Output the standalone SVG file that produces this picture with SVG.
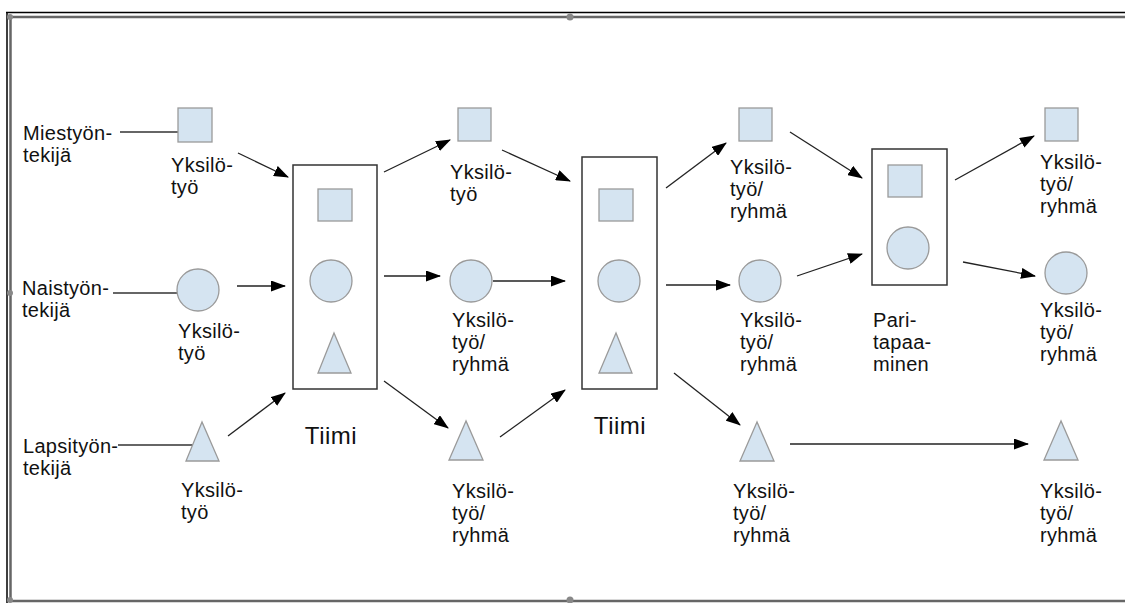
<svg xmlns="http://www.w3.org/2000/svg" width="1125" height="603" viewBox="0 0 1125 603">
<defs>
<style>
.t{font-family:"Liberation Sans",Arial,sans-serif;font-size:20px;letter-spacing:0.3px;fill:#111}
.big{font-size:24px;letter-spacing:0.5px}
.sh{fill:#d5e4f1;stroke:#9a9a9a;stroke-width:1.3}
.box{fill:none;stroke:#333;stroke-width:1.5}
.ln{stroke:#333;stroke-width:1.3;fill:none}
.ar{stroke:#222;stroke-width:1.3;fill:none;marker-end:url(#ah)}
</style>
<marker id="ah" viewBox="0 0 15 11" refX="14" refY="5.5" markerWidth="15" markerHeight="11" markerUnits="userSpaceOnUse" orient="auto">
<path d="M0,0 L15,5.5 L0,11 z" fill="#000"/>
</marker>
</defs>
<rect width="1125" height="603" fill="#fff"/>
<g id="frame">
<path d="M6,12.5 H1125 M7,12 V603" stroke="#000" stroke-width="1.5" fill="none"/>
<path d="M10,17 H1125 M10.5,17 V600 M10,601 H1125" stroke="#666" stroke-width="2.5" fill="none"/>
<circle cx="10" cy="17" r="3" fill="#888"/>
<circle cx="570" cy="17" r="3.5" fill="#888"/>
<circle cx="10" cy="293" r="3" fill="#888"/>
<circle cx="10" cy="600" r="3" fill="#888"/>
<circle cx="570" cy="600" r="3.5" fill="#888"/>
</g>
<g id="connectors">
<line class="ln" x1="120" y1="132" x2="178" y2="132"/>
<line class="ln" x1="113" y1="293" x2="177" y2="293"/>
<line class="ln" x1="118" y1="445" x2="193" y2="445"/>
<line class="ar" x1="238" y1="153" x2="288" y2="177"/>
<line class="ar" x1="237" y1="286" x2="285" y2="286"/>
<line class="ar" x1="228" y1="436" x2="285" y2="393"/>
<line class="ar" x1="384" y1="172" x2="450" y2="140"/>
<line class="ar" x1="384" y1="276" x2="440" y2="276"/>
<line class="ar" x1="384" y1="381" x2="448" y2="428"/>
<line class="ar" x1="502" y1="150" x2="570" y2="181"/>
<line class="ar" x1="493" y1="281" x2="565" y2="281"/>
<line class="ar" x1="500" y1="437" x2="565" y2="390"/>
<line class="ar" x1="666" y1="188" x2="726" y2="143"/>
<line class="ar" x1="666" y1="285" x2="730" y2="285"/>
<line class="ar" x1="674" y1="373" x2="740" y2="425"/>
<line class="ar" x1="790" y1="132" x2="862" y2="178"/>
<line class="ar" x1="797" y1="276" x2="862" y2="254"/>
<line class="ar" x1="790" y1="444" x2="1028" y2="444"/>
<line class="ar" x1="955" y1="180" x2="1034" y2="136"/>
<line class="ar" x1="963" y1="262" x2="1035" y2="276"/>
</g>
<g id="mies">
<text class="t" x="23" y="140">Miestyön-</text>
<text class="t" x="23" y="162">tekijä</text>
</g>
<g id="nais">
<text class="t" x="22" y="295">Naistyön-</text>
<text class="t" x="22" y="317">tekijä</text>
</g>
<g id="lapsi">
<text class="t" x="23" y="453">Lapsityön-</text>
<text class="t" x="23" y="475">tekijä</text>
</g>
<g id="c1-square">
<rect class="sh" x="178" y="108" width="34" height="34"/>
<text class="t" x="171" y="172">Yksilö-</text>
<text class="t" x="171" y="194">työ</text>
</g>
<g id="c1-circle">
<circle class="sh" cx="198" cy="290" r="21"/>
<text class="t" x="178" y="338">Yksilö-</text>
<text class="t" x="178" y="360">työ</text>
</g>
<g id="c1-triangle">
<polygon class="sh" points="202,422 186,461 219,461"/>
<text class="t" x="181" y="497">Yksilö-</text>
<text class="t" x="181" y="519">työ</text>
</g>
<g id="tiimi1">
<rect class="box" x="293" y="165" width="84" height="224"/>
<rect class="sh" x="318" y="189" width="34" height="32"/>
<circle class="sh" cx="331" cy="281" r="21"/>
<polygon class="sh" points="334,333 318,373 351,373"/>
<text class="t big" x="331" y="444" text-anchor="middle">Tiimi</text>
</g>
<g id="c2-square">
<rect class="sh" x="458" y="108" width="33" height="33"/>
<text class="t" x="450" y="179">Yksilö-</text>
<text class="t" x="450" y="201">työ</text>
</g>
<g id="c2-circle">
<circle class="sh" cx="471" cy="281" r="21"/>
<text class="t" x="452" y="327">Yksilö-</text>
<text class="t" x="452" y="349">työ/</text>
<text class="t" x="452" y="371">ryhmä</text>
</g>
<g id="c2-triangle">
<polygon class="sh" points="466,421 449,460 483,460"/>
<text class="t" x="452" y="498">Yksilö-</text>
<text class="t" x="452" y="520">työ/</text>
<text class="t" x="452" y="542">ryhmä</text>
</g>
<g id="tiimi2">
<rect class="box" x="582" y="157" width="75" height="232"/>
<rect class="sh" x="599" y="189" width="34" height="32"/>
<circle class="sh" cx="619" cy="281" r="21"/>
<polygon class="sh" points="616,333 599,373 632,373"/>
<text class="t big" x="620" y="434" text-anchor="middle">Tiimi</text>
</g>
<g id="c3-square">
<rect class="sh" x="739" y="108" width="33" height="33"/>
<text class="t" x="730" y="174">Yksilö-</text>
<text class="t" x="730" y="196">työ/</text>
<text class="t" x="730" y="218">ryhmä</text>
</g>
<g id="c3-circle">
<circle class="sh" cx="760" cy="281" r="21"/>
<text class="t" x="740" y="327">Yksilö-</text>
<text class="t" x="740" y="349">työ/</text>
<text class="t" x="740" y="371">ryhmä</text>
</g>
<g id="c3-triangle">
<polygon class="sh" points="757,422 740,461 774,461"/>
<text class="t" x="733" y="498">Yksilö-</text>
<text class="t" x="733" y="520">työ/</text>
<text class="t" x="733" y="542">ryhmä</text>
</g>
<g id="paritapaaminen">
<rect class="box" x="872" y="149" width="75" height="136"/>
<rect class="sh" x="888" y="165" width="34" height="32"/>
<circle class="sh" cx="908" cy="248" r="21"/>
<text class="t" x="873" y="327">Pari-</text>
<text class="t" x="873" y="349">tapaa-</text>
<text class="t" x="873" y="371">minen</text>
</g>
<g id="c4-square">
<rect class="sh" x="1045" y="108" width="33" height="33"/>
<text class="t" x="1040" y="169">Yksilö-</text>
<text class="t" x="1040" y="191">työ/</text>
<text class="t" x="1040" y="213">ryhmä</text>
</g>
<g id="c4-circle">
<circle class="sh" cx="1066" cy="273" r="21"/>
<text class="t" x="1040" y="317">Yksilö-</text>
<text class="t" x="1040" y="339">työ/</text>
<text class="t" x="1040" y="361">ryhmä</text>
</g>
<g id="c4-triangle">
<polygon class="sh" points="1061,421 1044,460 1078,460"/>
<text class="t" x="1040" y="498">Yksilö-</text>
<text class="t" x="1040" y="520">työ/</text>
<text class="t" x="1040" y="542">ryhmä</text>
</g>
</svg>
